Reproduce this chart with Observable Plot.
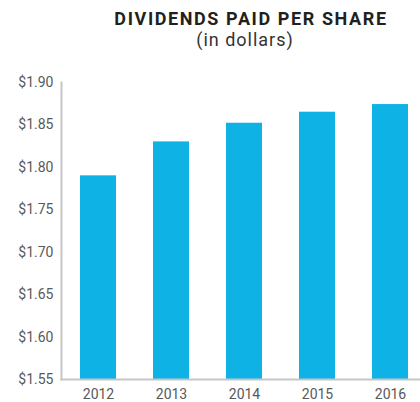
<!DOCTYPE html>
<html>
<head>
<meta charset="utf-8">
<script src="https://cdn.jsdelivr.net/npm/d3@7"></script>
<script src="https://cdn.jsdelivr.net/npm/@observablehq/plot@0.6"></script>
<style>
  html, body { margin: 0; padding: 0; background: #fff; }
  #wrap { position: relative; width: 420px; height: 402px; overflow: hidden; font-family: Roboto, "Noto Sans", sans-serif; }
  #title { position: absolute; top: 9px; left: 82px; width: 338px; text-align: center; font-weight: 700; font-size: 18px; line-height: 20px; color: #231f20; letter-spacing: 1.6px; white-space: nowrap; }
  #subtitle { position: absolute; top: 30px; left: 76px; width: 338px; text-align: center; font-weight: 400; font-size: 18px; line-height: 20px; color: #333; letter-spacing: 1px; white-space: nowrap; }
  #chart { position: absolute; top: 62px; left: 0; }
</style>
</head>
<body>
<div id="wrap">
  <div id="title">DIVIDENDS PAID PER SHARE</div>
  <div id="subtitle">(in dollars)</div>
  <div id="chart"></div>
</div>
<script>
const years = ["2012", "2013", "2014", "2015", "2016"];
const dividends = [1.79, 1.83, 1.852, 1.865, 1.874];
const yTicks = [1.55, 1.60, 1.65, 1.70, 1.75, 1.80, 1.85, 1.90];
const baseValue = 1.55;

const data = years.map((year, i) => ({year, value: dividends[i]}));

const chart = Plot.plot({
  width: 420,
  height: 340,
  marginLeft: 61,
  marginRight: 0,
  marginTop: 20,
  marginBottom: 23,
  style: {fontFamily: "Roboto, 'Noto Sans', sans-serif", fontSize: "14px", color: "#555", background: "white"},
  x: {domain: years, range: [61, 426], paddingInner: 0.51, paddingOuter: 0.2457, label: null},
  y: {domain: [1.55, 1.90], label: null},
  marks: [
    Plot.barY(data, {x: "year", y1: baseValue, y2: "value", fill: "#0eb2e4"}),
    Plot.axisY({ticks: yTicks, tickSize: 0, tickPadding: 8, fontSize: 14, tickFormat: d => "$" + d.toFixed(2), label: null, fill: "#58595b"}),
    Plot.axisX({tickSize: 0, tickPadding: 10, fontSize: 14, label: null, fill: "#58595b"}),
    Plot.frame({anchor: "left", stroke: "#c6c6c8", strokeWidth: 2}),
    Plot.frame({anchor: "bottom", stroke: "#c6c6c8", strokeWidth: 2})
  ]
});
document.getElementById("chart").appendChild(chart);
</script>
</body>
</html>
